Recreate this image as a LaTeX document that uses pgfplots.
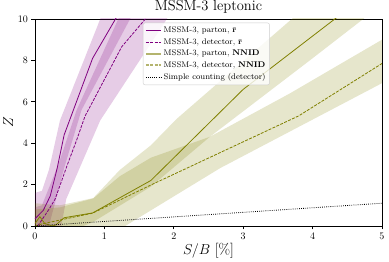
\documentclass[border=0pt]{standalone}
\usepackage{pgfplots}
\pgfplotsset{compat=1.18}
\definecolor{mpurple}{RGB}{128,0,128}
\definecolor{molive}{RGB}{128,128,0}
\definecolor{lolive}{RGB}{180,180,110}
\begin{document}
\begin{tikzpicture}
\begin{axis}[
  scale only axis, width=347pt, height=207pt,
  at={(0,0)}, anchor=south west,
  xmin=0, xmax=5, ymin=0, ymax=10,
  xtick={0,1,2,3,4,5}, ytick={0,2,4,6,8,10},
  tick pos=left, tick align=outside, major tick length=3.5pt,
  tick style={line width=0.6pt, black},
  tick label style={font=\fontsize{10}{11}\selectfont},
  title={MSSM-3 leptonic},
  title style={font=\fontsize{14.5}{16}\selectfont, yshift=-4pt},
  xlabel={$S/B$ [\%]}, ylabel={$Z$},
  label style={font=\fontsize{15}{17}\selectfont},
  xlabel style={yshift=3pt},
  ylabel style={yshift=-2pt},
  axis line style={line width=0.6pt},
  legend style={at={(0.311,0.982)}, anchor=north west, draw=black!20,
    rounded corners=2pt, fill=white, fill opacity=0.8, text opacity=1, draw opacity=1,
    font=\fontsize{8.2}{9}\selectfont, row sep=0.3pt, inner sep=2pt},
  legend cell align=left,
  legend image code/.code={\draw[#1, opacity=1] (0pt,0pt) -- (15pt,0pt);},
]
% purple bands
\addplot[fill=mpurple, fill opacity=0.2, draw=none, forget plot] coordinates {
 (0,1.6) (0.1,1.7) (0.2,2.7) (0.36,5.1) (0.94,10) (1.0,10.6)
 (1.45,10.6) (1.37,10) (0.67,5.6) (0.42,2.8) (0.28,1.0) (0.2,0) (0,0)} -- cycle;
\addplot[fill=mpurple, fill opacity=0.2, draw=none, forget plot] coordinates {
 (0,0.9) (0.1,1.0) (0.34,3.0) (0.6,5.6) (1.2,10) (1.3,10.6)
 (2.0,10.6) (1.9,10) (0.94,5.1) (0.45,1.3) (0.38,0) (0,0)} -- cycle;
% olive bands
\addplot[fill=molive, fill opacity=0.2, draw=none, forget plot] coordinates {
 (0,1.1) (0.36,1.0) (0.84,1.35) (1.22,2.7) (1.67,3.9) (2.04,5.17) (3.7,10) (4.0,10.9)
 (5,10.9) (4.73,10) (3.96,8.0) (2.52,4.31) (1.67,1.9) (0.84,0.2) (0.7,0) (0,0)} -- cycle;
\addplot[fill=molive, fill opacity=0.2, draw=none, forget plot] coordinates {
 (0,0.8) (0.36,0.9) (0.84,1.33) (1.22,2.4) (1.67,3.3) (2.52,4.31) (3.67,6.4) (5,9.0)
 (5,6.9) (2.67,2.8) (1.3,0) (0,0)} -- cycle;
% lines
\addplot[mpurple, line width=0.8pt, forget plot] coordinates {
 (0,0.35) (0.05,0.52) (0.12,0.76) (0.22,1.45) (0.32,2.8) (0.42,4.4) (0.83,8.1) (1.16,10) (1.3,10.8)};
\addplot[mpurple, line width=0.8pt, dash pattern=on 3pt off 1.3pt, forget plot] coordinates {
 (0.04,0) (0.12,0.4) (0.2,0.8) (0.29,1.3) (0.46,2.9) (0.6,4.15) (0.72,5.3) (1.25,8.66) (1.59,10) (1.7,10.6)};
\addplot[molive, line width=0.8pt, forget plot] coordinates {
 (0,0.12) (0.07,0.45) (0.14,0.12) (0.25,0) (0.3,0.05) (0.42,0.4) (0.83,0.63) (1.67,2.2) (3.0,6.6) (4.32,10) (4.6,10.7)};
\addplot[molive, line width=0.8pt, dash pattern=on 3pt off 1.3pt, forget plot] coordinates {
 (0,0) (0.1,0.1) (0.42,0.33) (0.83,0.62) (1.67,1.98) (3.8,5.32) (5,7.85)};
\addplot[black, line width=0.8pt, dash pattern=on 0.8pt off 1.3pt, forget plot] coordinates {
 (0,0) (1,0.22) (2,0.44) (3,0.66) (4,0.88) (5,1.1)};
% legend
\addlegendimage{mpurple, line width=0.8pt}
\addlegendentry{MSSM-3, parton, $\bar{\mathbf{r}}$}
\addlegendimage{mpurple, line width=0.8pt, dash pattern=on 3pt off 1.3pt}
\addlegendentry{MSSM-3, detector, $\bar{\mathbf{r}}$}
\addlegendimage{lolive, line width=1.6pt}
\addlegendentry{MSSM-3, parton, \textbf{NNID}}
\addlegendimage{lolive, line width=1.6pt, dash pattern=on 3pt off 1.3pt}
\addlegendentry{MSSM-3, detector, \textbf{NNID}}
\addlegendimage{black, line width=0.8pt, dash pattern=on 0.8pt off 1.3pt}
\addlegendentry{Simple counting (detector)}
\end{axis}
\pgfresetboundingbox
\path[use as bounding box] (-35pt,-36pt) rectangle (354pt,226pt);
\end{tikzpicture}
\end{document}
